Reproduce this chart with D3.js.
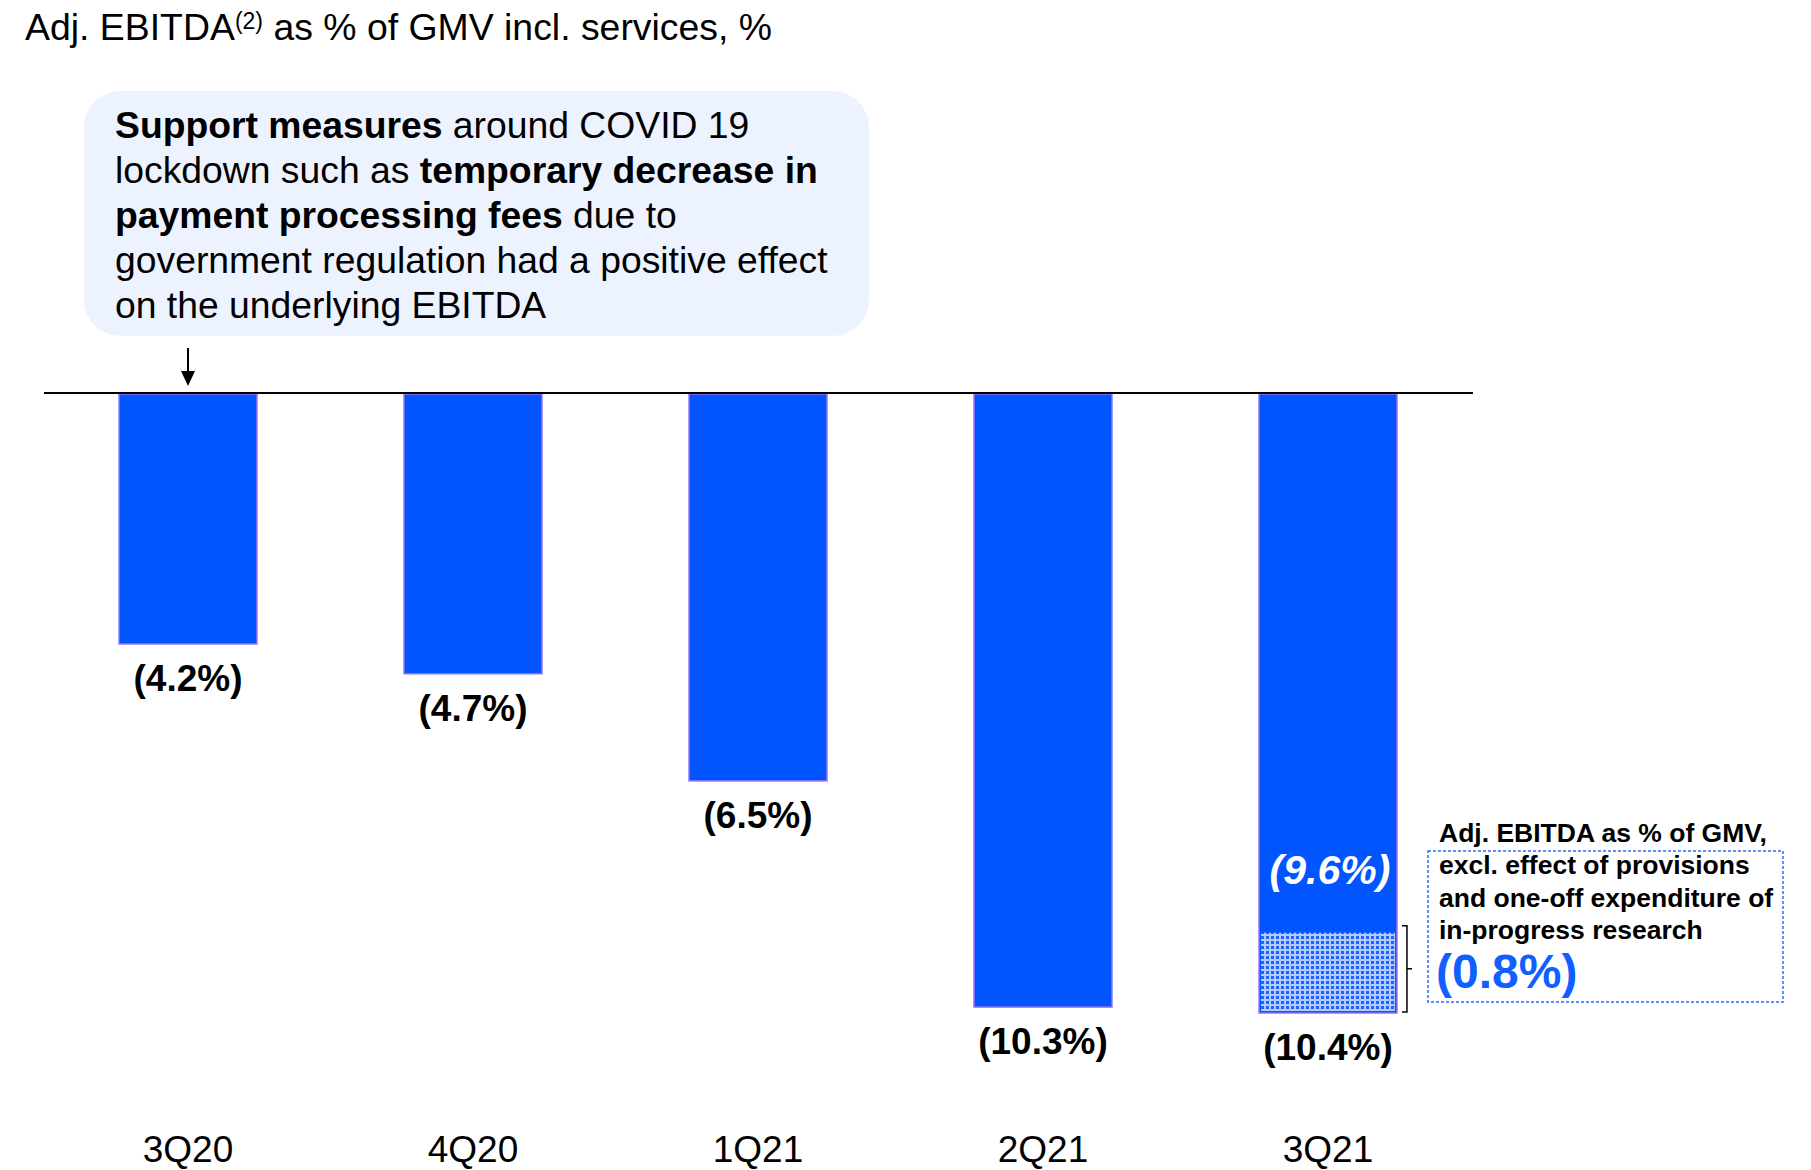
<!doctype html>
<html>
  <head>
    <meta charset="utf-8">
    <script src="https://d3js.org/d3.v7.min.js"></script>
    <style>
      body { margin: 0; background: #fff; }
      text { font-family: "Liberation Sans", Arial, sans-serif; }
    </style>
  </head>
  <body>
    <div id="graphic"></div>
    <script>

// Data
  var quarters = ["3Q20", "4Q20", "1Q21", "2Q21", "3Q21"];
  var ebitdaPct = [4.2, 4.7, 6.5, 10.3, 10.4];
  var exclProvisions = [9.6];   // 3Q21 excl. provisions and one-off research
  var provisionEffect = [0.8];
  var provisionDrawnFrom = [9.05]; // where the dotted part starts in the picture (not to scale)

  var calloutLines = [
    [["Support measures", true], [" around COVID 19", false]],
    [["lockdown such as ", false], ["temporary decrease in", true]],
    [["payment processing fees", true], [" due to", false]],
    [["government regulation had a positive effect", false]],
    [["on the underlying EBITDA", false]]
  ];
  var noteLines = ["Adj. EBITDA as % of GMV,", "excl. effect of provisions",
                   "and one-off expenditure of", "in-progress research"];

  var width = 1811, height = 1170;
  var blue = "#0055FF";

  var svg = d3.select("#graphic").append("svg")
    .attr("width", width)
    .attr("height", height);

  var defs = svg.append("defs");
  var pat = defs.append("pattern")
    .attr("id", "dots")
    .attr("width", 5).attr("height", 5)
    .attr("patternUnits", "userSpaceOnUse");
  pat.append("rect").attr("width", 5).attr("height", 5).attr("fill", "#b3caff");
  pat.append("rect").attr("x", 1).attr("y", 1).attr("width", 3).attr("height", 3).attr("fill", "#1f62ff");

// Scales
  var xScale = d3.scaleBand()
    .domain(quarters)
    .range([45.5, 1470.5])
    .paddingInner(0.516)
    .paddingOuter(0.258);

  var yScale = d3.scaleLinear()
    .domain([0, 10.4])
    .range([394, 1013]);

// Title
  var title = svg.append("text")
    .attr("x", 25).attr("y", 40)
    .style("font-size", "37.4px")
    .attr("fill", "#000");
  title.append("tspan").text("Adj. EBITDA");
  title.append("tspan").attr("dy", -11).style("font-size", "23px").text("(2)");
  title.append("tspan").attr("dy", 11).text(" as % of GMV incl. services, %");

// Callout
  svg.append("rect")
    .attr("x", 84).attr("y", 91)
    .attr("width", 785).attr("height", 245)
    .attr("rx", 36).attr("ry", 36)
    .attr("fill", "#EDF3FE");

  calloutLines.forEach(function(line, i) {
    var t = svg.append("text")
      .attr("x", 115)
      .attr("y", 138 + i * 45)
      .style("font-size", "37.3px");
    line.forEach(function(part) {
      t.append("tspan")
        .style("font-weight", part[1] ? "bold" : "normal")
        .text(part[0]);
    });
  });

// Arrow
  var ax = xScale("3Q20") + xScale.bandwidth() / 2;
  svg.append("line")
    .attr("x1", ax).attr("x2", ax)
    .attr("y1", 348).attr("y2", 374)
    .attr("stroke", "#000").attr("stroke-width", 2);
  svg.append("path")
    .attr("d", "M" + (ax - 7) + ",371 L" + (ax + 7) + ",371 L" + ax + ",386 Z")
    .attr("fill", "#000");

// Bars
  var bars = quarters.map(function(q, i) { return {q: q, v: ebitdaPct[i]}; });

  svg.selectAll("rect.bar")
    .data(bars)
    .enter()
    .append("rect")
    .attr("class", "bar")
    .attr("x", d => xScale(d.q))
    .attr("y", yScale(0))
    .attr("width", xScale.bandwidth())
    .attr("height", d => yScale(d.v) - yScale(0))
    .style("fill", blue)
    .style("stroke", "#9470f2")
    .style("stroke-width", "1.5px");

  // dotted part of 3Q21
  var last = quarters[4];
  svg.append("rect")
    .attr("x", xScale(last) + 2)
    .attr("y", yScale(provisionDrawnFrom[0]))
    .attr("width", xScale.bandwidth() - 4)
    .attr("height", yScale(ebitdaPct[4]) - yScale(provisionDrawnFrom[0]) - 2)
    .attr("fill", "url(#dots)");

// Baseline
  svg.append("line")
    .attr("x1", 44).attr("x2", 1473)
    .attr("y1", yScale(0) - 1).attr("y2", yScale(0) - 1)
    .attr("stroke", "#000").attr("stroke-width", 2);

// Value labels
  svg.selectAll("text.val")
    .data(bars)
    .enter()
    .append("text")
    .attr("class", "val")
    .attr("x", d => xScale(d.q) + xScale.bandwidth() / 2)
    .attr("y", d => yScale(d.v) + 47)
    .attr("text-anchor", "middle")
    .style("font-size", "37px")
    .style("font-weight", "bold")
    .text(d => "(" + d.v.toFixed(1) + "%)");

  svg.append("text")
    .attr("x", xScale(last) + xScale.bandwidth() / 2 + 2)
    .attr("y", 884)
    .attr("text-anchor", "middle")
    .attr("fill", "#fff")
    .style("font-size", "41px")
    .style("font-weight", "bold")
    .style("font-style", "italic")
    .text("(" + exclProvisions[0].toFixed(1) + "%)");

// Bracket
  var bx = xScale(last) + xScale.bandwidth() + 5;
  var bTop = yScale(provisionDrawnFrom[0]) - 7, bBot = yScale(ebitdaPct[4]) - 1;
  svg.append("path")
    .attr("d", "M" + bx + "," + bTop + " H" + (bx + 5) + " V" + bBot + " H" + bx +
               " M" + (bx + 5) + "," + ((bTop + bBot) / 2) + " H" + (bx + 10))
    .attr("fill", "none")
    .attr("stroke", "#000")
    .attr("stroke-width", 1.5);

// Note box
  svg.append("rect")
    .attr("x", 1428).attr("y", 851)
    .attr("width", 355).attr("height", 151)
    .attr("fill", "none")
    .attr("stroke", "#2a6cff")
    .attr("stroke-width", 1.5)
    .attr("stroke-dasharray", "3,2");

  noteLines.forEach(function(l, i) {
    svg.append("text")
      .attr("x", 1439)
      .attr("y", 842 + i * 32.3)
      .style("font-size", "26.5px")
      .style("font-weight", "bold")
      .text(l);
  });

  svg.append("text")
    .attr("x", 1436)
    .attr("y", 988)
    .attr("fill", "#1060ff")
    .style("font-size", "48px")
    .style("font-weight", "bold")
    .text("(" + provisionEffect[0].toFixed(1) + "%)");

// Category axis labels
  svg.selectAll("text.cat")
    .data(quarters)
    .enter()
    .append("text")
    .attr("class", "cat")
    .attr("x", d => xScale(d) + xScale.bandwidth() / 2)
    .attr("y", 1162)
    .attr("text-anchor", "middle")
    .style("font-size", "37px")
    .text(d => d);

    </script>
  </body>
</html>
